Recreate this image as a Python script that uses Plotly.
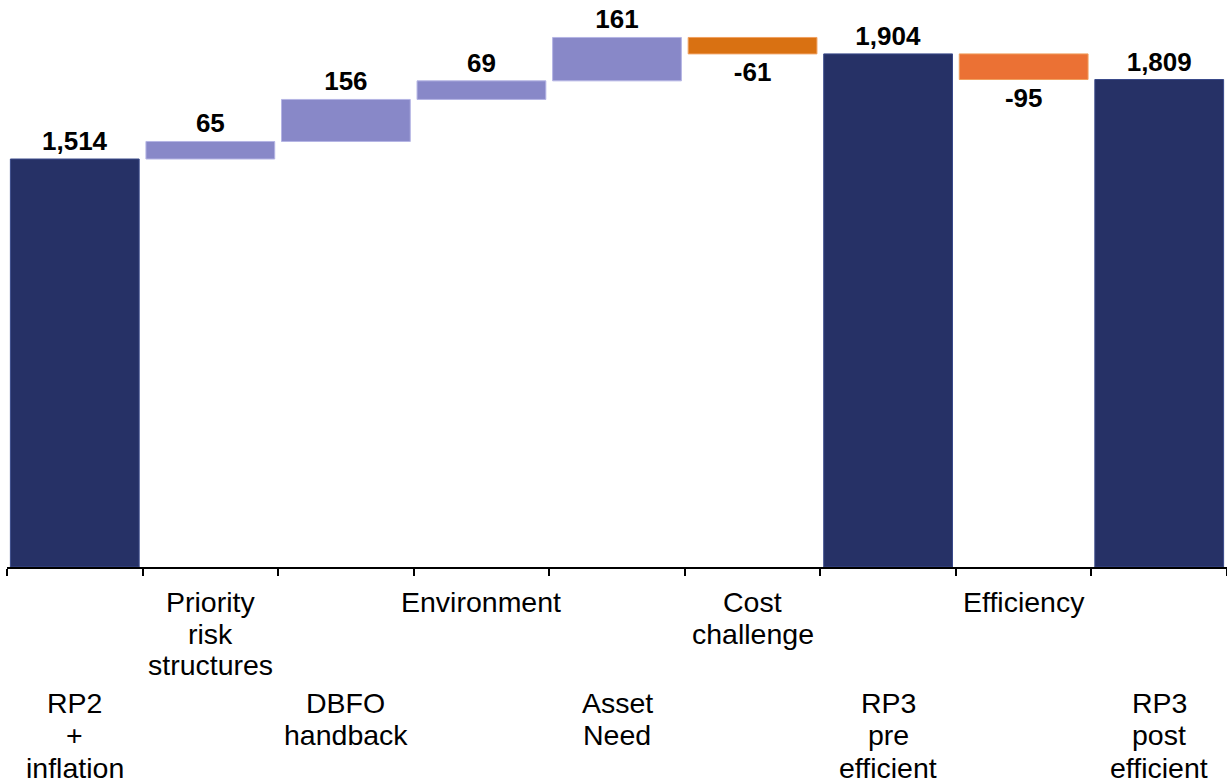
import plotly.graph_objects as go

# ---- data ----
categories = ["RP2<br>+<br>inflation", "Priority<br>risk<br>structures", "DBFO<br>handback",
              "Environment", "Asset<br>Need", "Cost<br>challenge",
              "RP3<br>pre<br>efficient", "Efficiency", "RP3<br>post<br>efficient"]
measures = ["absolute", "relative", "relative", "relative", "relative", "relative",
            "total", "relative", "total"]
values = [1514, 65, 156, 69, 161, -61, 0, -95, 0]

NAVY = "#263166"
PURPLE = "#8888C8"
ORANGE_DARK = "#D97112"
ORANGE_LIGHT = "#EB7134"

# ---- compute bar bases / heights from the data ----
bases, heights, texts, colors, lines = [], [], [], [], []
running = 0
for m, v in zip(measures, values):
    if m == "absolute":
        bases.append(0); heights.append(v); running = v
        colors.append(NAVY); lines.append("#3a4a8a")
    elif m == "total":
        bases.append(0); heights.append(running)
        colors.append(NAVY); lines.append("#3a4a8a")
    else:
        bases.append(running); heights.append(v); running += v
        if v >= 0:
            colors.append(PURPLE); lines.append("#B4B4E4")
        else:
            colors.append(ORANGE_DARK if v > -80 else ORANGE_LIGHT); lines.append("#F0A060")
    texts.append(f"{heights[-1]:,}")

FONT = "Liberation Sans, Arial, sans-serif"

fig = go.Figure(go.Bar(
    x=categories, y=heights, base=bases,
    marker=dict(color=colors, line=dict(color=lines, width=1)),
    text=texts, textposition="outside", constraintext="none", cliponaxis=False,
    textfont=dict(family=FONT, size=26, color="black", weight="bold"),
    hoverinfo="skip",
))

PLOT_BOTTOM = 567
fig.update_layout(
    width=1227, height=784,
    margin=dict(l=7, r=0, t=0, b=784 - PLOT_BOTTOM),
    paper_bgcolor="white", plot_bgcolor="white",
    bargap=0.05, showlegend=False,
    font=dict(family=FONT, color="black"),
    xaxis=dict(type="category", showticklabels=False, showgrid=False, zeroline=False,
               showline=True, linecolor="black", linewidth=2,
               ticks="outside", tickson="boundaries", ticklen=7, tickwidth=1.5,
               tickcolor="black", range=[-0.5, 8.5]),
    yaxis=dict(visible=False, range=[0, 2104], showgrid=False, zeroline=False),
)

# staggered multi-line category labels
annotations = []
for i, cat in enumerate(categories):
    parts = cat.split("<br>")
    upper = (i % 2 == 1)
    first = -35 if upper else -136
    step = 31.7 if upper else 32.3
    for j, p in enumerate(parts):
        annotations.append(dict(
            x=cat, y=0, xref="x", yref="paper", text=p, showarrow=False,
            xanchor="center", yanchor="middle", yshift=first - j * step,
            font=dict(family=FONT, size=28.5, color="black"),
        ))
fig.update_layout(annotations=annotations)

fig.write_html("out.html")
